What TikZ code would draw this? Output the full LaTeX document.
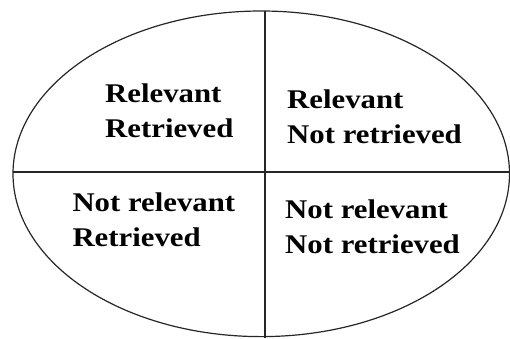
\documentclass[tikz,border=0pt]{standalone}
\usepackage{fontspec}
\setmainfont[FakeStretch=1.14]{Liberation Serif}
\begin{document}
\begin{tikzpicture}[x=1pt,y=-1pt,
  lbl/.style={anchor=north west, inner sep=0pt, align=left,
    font=\fontsize{27}{35}\selectfont\bfseries},
  divider/.style={line width=1.6pt, draw=black!85},
  outline/.style={line width=1.2pt, draw=black!85}]
\useasboundingbox (0,0) rectangle (510,338);
\draw[outline] (261.25,173.8) ellipse [x radius=248.25, y radius=162.8];
\coordinate (top) at (265,11);
\coordinate (bot) at (265,338);
\coordinate (lft) at (13,171.7);
\coordinate (rgt) at (510,171.7);
\draw[divider] (top) -- (bot);
\draw[divider] (lft) -- (rgt);
\node[lbl] (tl) at (105,83.3) {Relevant\\Retrieved};
\node[lbl] (tr) at (287,89.3) {Relevant\\Not retrieved};
\node[lbl] (bl) at (72.3,192.7) {Not relevant\\Retrieved};
\node[lbl] (br) at (285,199.3) {Not relevant\\Not retrieved};
\end{tikzpicture}
\end{document}
